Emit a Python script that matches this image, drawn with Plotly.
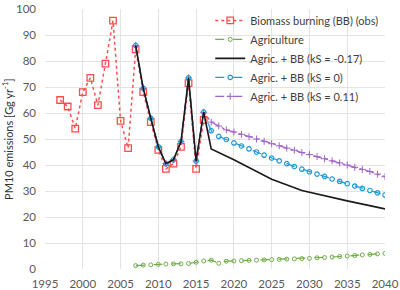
import plotly.graph_objects as go

# Biomass burning observations
obs_years = list(range(1997, 2017))
obs_vals = [65.0, 62.5, 54.0, 68.0, 73.5, 63.0, 79.0, 95.5, 57.0, 46.5,
            84.5, 68.0, 56.5, 45.8, 38.5, 40.5, 47.0, 71.5, 38.5, 57.3]

# Agriculture
agri_years = list(range(2007, 2041))
agri_vals = [1.3, 1.5, 1.6, 1.8, 1.9, 2.0, 2.0, 2.1, 2.6, 3.1,
             3.4, 2.2, 3.0, 3.1, 3.2, 3.3, 3.4, 3.5, 3.6, 3.7,
             3.8, 3.9, 4.0, 4.1, 4.3, 4.4, 4.6, 4.8, 5.0, 5.2,
             5.4, 5.6, 5.8, 6.0]

# Agric. + BB, historical part (common to all scenarios)
hist_years = list(range(2007, 2017))
hist_vals = [86.0, 69.5, 58.0, 47.0, 40.5, 42.0, 49.0, 73.5, 41.5, 60.3]

# kS = -0.17
neg_years = hist_years + [2017, 2020, 2025, 2029, 2035, 2040]
neg_vals = hist_vals + [46.2, 42.0, 34.5, 30.2, 26.2, 23.1]

# kS = 0
fut_years = list(range(2017, 2041))
zero_vals = [53.2, 51.0, 49.8, 48.5, 47.3, 46.2, 45.0, 43.8, 42.7, 41.6,
             40.5, 39.4, 38.4, 37.4, 36.5, 35.6, 34.6, 33.7, 32.8, 31.9,
             31.0, 30.2, 29.3, 28.5]

# kS = 0.11
pos_vals = [56.5, 55.0, 53.5, 52.7, 51.8, 50.9, 50.0, 49.1, 48.2, 47.4,
            46.5, 45.7, 44.8, 44.0, 43.2, 42.4, 41.6, 40.8, 40.0, 39.1,
            38.3, 37.5, 36.5, 35.5]

x_ticks = list(range(1995, 2041, 5))
y_ticks = list(range(0, 101, 10))
y_title = "PM10 emissions [Gg yr<sup>-1</sup>]"

FONT = "Lato"
PURPLE = "#a064c8"
BLUE = "#1e9bd7"
fig = go.Figure()

fig.add_trace(go.Scatter(
    x=obs_years, y=obs_vals, name="Biomass burning (BB) (obs)", legendrank=1,
    mode="lines+markers",
    line=dict(color="#ff4d4d", width=1.5, dash="dot"),
    marker=dict(symbol="square-open", size=6.5, color="#ff4d4d", line=dict(width=1.3))))

fig.add_trace(go.Scatter(
    x=agri_years, y=agri_vals, name="Agriculture", legendrank=2,
    mode="lines+markers",
    line=dict(color="#70ad47", width=1.2, dash="dash"),
    marker=dict(symbol="circle-open", size=4, color="#70ad47", line=dict(width=1))))

fig.add_trace(go.Scatter(
    x=hist_years + fut_years, y=hist_vals + pos_vals, name="Agric. + BB (kS = 0.11)",
    legendrank=5, mode="lines+markers",
    line=dict(color=PURPLE, width=1.3, dash="dashdot"),
    marker=dict(symbol="cross-thin", size=5, color=PURPLE, line=dict(width=1, color=PURPLE))))

fig.add_trace(go.Scatter(
    x=hist_years + fut_years, y=hist_vals + zero_vals, name="Agric. + BB (kS = 0)",
    legendrank=4, mode="lines+markers",
    line=dict(color=BLUE, width=1.3, dash="dash"),
    marker=dict(symbol="circle-open", size=4.5, color=BLUE, line=dict(width=1.2))))

fig.add_trace(go.Scatter(
    x=neg_years, y=neg_vals, name="Agric. + BB (kS = -0.17)", legendrank=3,
    mode="lines",
    line=dict(color="#1a1a1a", width=1.6)))

fig.update_layout(
    width=400, height=290,
    margin=dict(l=45, r=15, t=6, b=21),
    paper_bgcolor="white", plot_bgcolor="white",
    font=dict(family=FONT, size=11, color="#595959"),
    legend=dict(x=0.486, y=1.012, xanchor="left", yanchor="top",
                bgcolor="rgba(255,255,255,0)", borderwidth=0,
                font=dict(family=FONT, size=11, color="#404040"),
                tracegroupgap=0, itemwidth=30, traceorder="normal"),
    showlegend=True,
    annotations=[dict(text=y_title, textangle=-90, xref="paper", yref="paper",
                      x=-0.112, y=0.5, xanchor="center", yanchor="middle",
                      showarrow=False,
                      font=dict(family=FONT, size=11, color="#333333"))],
)
fig.update_xaxes(range=[1995, 2040], tickvals=x_ticks, showgrid=True,
                 gridcolor="#e3e3e3", gridwidth=1, zeroline=False,
                 showline=False, ticks="", ticklabelstandoff=6, automargin=False,
                 ticklabeloverflow="allow",
                 tickfont=dict(family=FONT, size=11.5, color="#595959"))
fig.update_yaxes(range=[0, 100], tickvals=y_ticks, showgrid=True,
                 gridcolor="#e3e3e3", gridwidth=1, zeroline=False,
                 showline=False, ticks="", ticklabelstandoff=8, automargin=False,
                 ticklabeloverflow="allow",
                 tickfont=dict(family=FONT, size=11.5, color="#595959"))

fig.write_html("out.html", config={"displayModeBar": False},
               post_script="document.body.style.margin='0px';")
